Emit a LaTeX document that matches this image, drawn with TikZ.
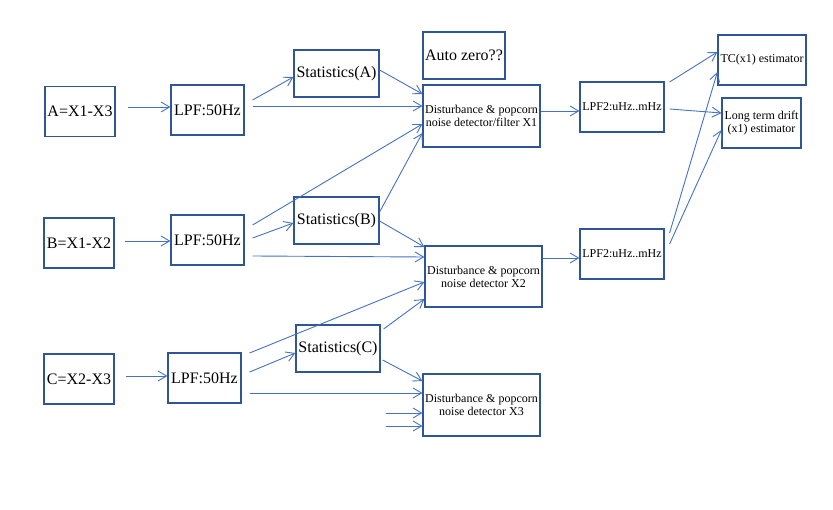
\documentclass[tikz,border=0pt]{standalone}
\usepackage{fontspec}
\setmainfont{Liberation Serif}
\usetikzlibrary{arrows.meta}
\definecolor{boxblue}{RGB}{47,85,151}
\definecolor{linkblue}{RGB}{68,114,196}

\begin{document}
\begin{tikzpicture}[
    x=1pt, y=-1pt,
    block/.style={draw=boxblue, line width=1.2pt, inner sep=0pt, align=center,
                  minimum width=#1, minimum height=50pt},
    block/.default=70pt,
    bigtext/.style={font=\fontsize{16}{18}\selectfont},
    smalltext/.style={font=\fontsize{12}{13}\selectfont},
    link/.style={draw=linkblue, line width=0.9pt, -{Straight Barb[length=8.5pt,width=10pt]}}
  ]
    \useasboundingbox (0,0) rectangle (833,510);

    % inputs
    \node[block, bigtext] (inA) at (80,111.5) {A=X1-X3};
    \node[block, bigtext] (inB) at (79,243)   {B=X1-X2};
    \node[block, bigtext] (inC) at (79,379)   {C=X2-X3};

    % first low pass filters
    \node[block=73pt, bigtext] (lpfA) at (207.5,110) {LPF:50Hz};
    \node[block=73pt, bigtext] (lpfB) at (207.5,240) {LPF:50Hz};
    \node[block=73pt, bigtext] (lpfC) at (204.5,378) {LPF:50Hz};

    % statistics
    \node[block=85pt, bigtext, minimum height=47pt] (statA) at (336.5,73.5)  {Statistics(A)};
    \node[block=85pt, bigtext, minimum height=47pt] (statB) at (336.5,220.5) {Statistics(B)};
    \node[block=84pt, bigtext, minimum height=47pt] (statC) at (338,348.5)   {Statistics(C)};

    \node[block=82pt, bigtext, minimum height=47pt] (auto) at (464,55.5) {Auto zero??};

    % detectors
    \node[block=117pt, smalltext, minimum height=62pt] (detA) at (481.5,116)
        {Disturbance \& popcorn\\noise detector/filter X1};
    \node[block=117pt, smalltext, minimum height=61pt] (detB) at (483.5,276.5)
        {Disturbance \& popcorn\\noise detector X2};
    \node[block=117pt, smalltext, minimum height=62pt] (detC) at (481.5,405)
        {Disturbance \& popcorn\\noise detector X3};

    % second low pass filters
    \node[block=84pt, smalltext] (lpf2A) at (622,107) {LPF2:uHz..mHz};
    \node[block=84pt, smalltext] (lpf2B) at (622,254) {LPF2:uHz..mHz};

    % estimators
    \node[block=88pt, smalltext] (tc)    at (762,60)    {TC(x1) estimator};
    \node[block=79pt, smalltext] (drift) at (761.5,123) {Long term drift\\(x1) estimator};

    % row A
    \draw[link] ([xshift=12pt,yshift=4.5pt]inA.east) -- ([yshift=3pt]lpfA.west);
    \draw[link] ([xshift=8pt,yshift=10pt]lpfA.east) -- ([yshift=-3.5pt]statA.west);
    \draw[link] ([xshift=8pt,yshift=4pt]lpfA.east) -- ([yshift=10pt]detA.west);
    \draw[link] ([yshift=3.5pt]statA.east) -- ([yshift=22pt]detA.west);

    % row B
    \draw[link] ([xshift=10pt,yshift=2pt]inB.east) -- ([yshift=-1pt]lpfB.west);
    \draw[link] ([xshift=8pt,yshift=15pt]lpfB.east) -- ([yshift=-8pt]detA.west);
    \draw[link] ([xshift=8pt,yshift=2pt]lpfB.east) -- ([yshift=-2.5pt]statB.west);
    \draw[link] ([xshift=8pt,yshift=-16pt]lpfB.east) -- ([yshift=19.5pt]detB.west);
    \draw[link] ([yshift=8.5pt]statB.east) -- ([yshift=-17pt]detA.west);
    \draw[link] ([yshift=-0.5pt]statB.east) -- ([yshift=29.5pt]detB.west);

    % row C
    \draw[link] ([xshift=11pt,yshift=3pt]inC.east) -- ([yshift=2pt]lpfC.west);
    \draw[link] ([xshift=8pt,yshift=25pt]lpfC.east) -- ([yshift=-5.5pt]detB.west);
    \draw[link] ([xshift=8pt,yshift=6pt]lpfC.east) -- ([yshift=-4.5pt]statC.west);
    \draw[link] ([xshift=8pt,yshift=-15pt]lpfC.east) -- ([yshift=12pt]detC.west);
    \draw[link] ([xshift=3pt,yshift=19.5pt]statC.east) -- ([yshift=-22.5pt]detB.west);
    \draw[link] ([xshift=2pt,yshift=-11.5pt]statC.east) -- ([yshift=24pt]detC.west);
    \draw[link] ([xshift=-36pt,yshift=-8pt]detC.west) -- ([yshift=-8pt]detC.west);
    \draw[link] ([xshift=-36pt,yshift=-21pt]detC.west) -- ([yshift=-21pt]detC.west);

    % towards the estimators
    \draw[link] ([yshift=5pt]detA.east) -- ([yshift=-4pt]lpf2A.west);
    \draw[link] ([yshift=18.5pt]detB.east) -- ([yshift=-4pt]lpf2B.west);
    \draw[link] ([xshift=5pt,yshift=25pt]lpf2A.east) -- ([yshift=8pt]tc.west);
    \draw[link] ([xshift=5pt,yshift=-2pt]lpf2A.east) -- ([yshift=10pt]drift.west);
    \draw[link] ([xshift=5pt,yshift=21pt]lpf2B.east) -- ([yshift=-12pt]tc.west);
    \draw[link] ([xshift=5pt,yshift=10pt]lpf2B.east) -- ([yshift=-7pt]drift.west);
\end{tikzpicture}
\end{document}
